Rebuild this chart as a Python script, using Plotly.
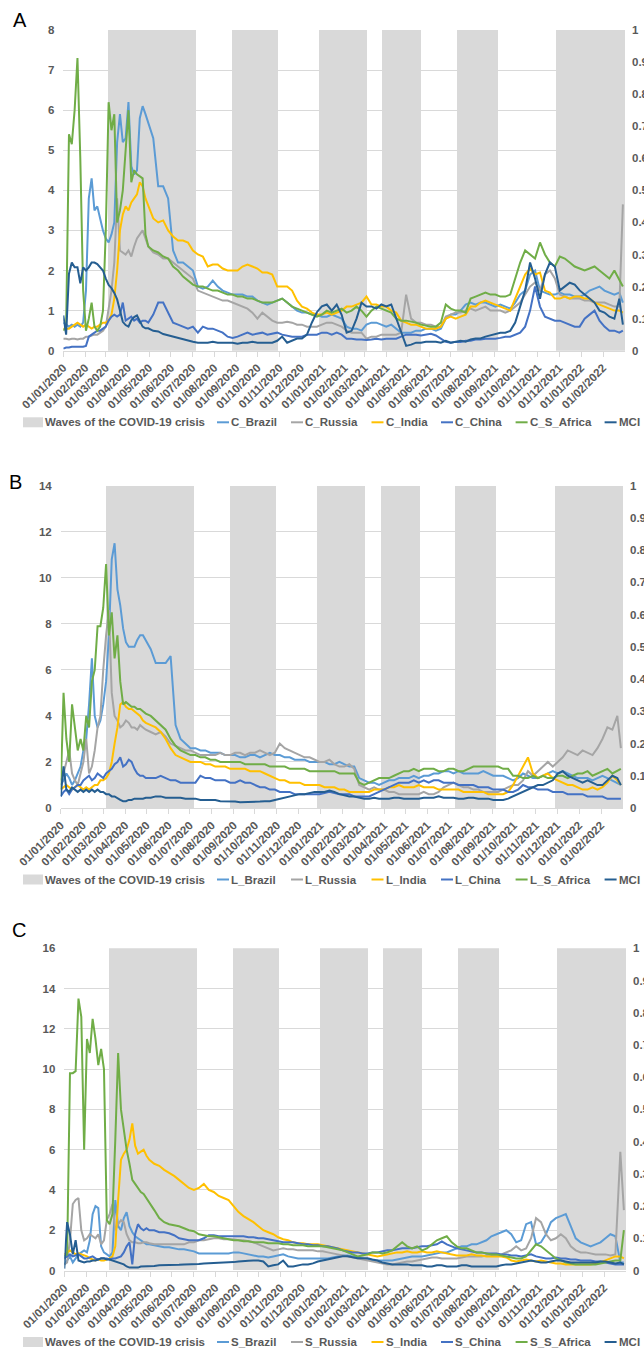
import pandas as pd
import plotly.graph_objects as go

W, H = 644, 1348
FONT = "Liberation Sans, Arial, sans-serif"
GREY_TXT = "#595959"
GRID = "#D9D9D9"

# ---------------- x grid of observations ----------------
DATES = (list(pd.date_range("2020-01-01", "2020-04-30", freq="4D"))
         + list(pd.date_range("2020-05-07", "2022-02-24", freq="7D"))
         + [pd.Timestamp("2022-03-01")])

MONTH_TICKS = list(pd.date_range("2020-01-01", "2022-02-01", freq="MS"))
MONTH_LABELS = [d.strftime("%d/%m/%Y") for d in MONTH_TICKS]
X_START, X_END = "2020-01-01", "2022-03-04"

WAVE_STARTS = ["2020-03-05", "2020-08-27", "2020-12-27", "2021-03-27", "2021-07-10", "2021-11-27"]
WAVE_ENDS = ["2020-07-07", "2020-10-30", "2021-03-05", "2021-05-21", "2021-09-06", "2022-03-04"]

COUNTRIES = ["Brazil", "Russia", "India", "China", "S_Africa"]
COLORS = ["#5B9BD5", "#A5A5A5", "#FFC000", "#4472C4", "#70AD47"]
MCI_COLOR = "#255E91"
WAVE_COLOR = "#D9D9D9"

# ---------------- Panel A (C_*) ----------------
A_BRAZIL = [
    0.7, 0.65, 0.6, 0.65, 0.6, 0.65, 0.6, 0.7,
    1.5, 3.8, 4.3, 3.5, 3.6, 3.3, 3.0,
    2.8, 2.7, 2.9, 3.2, 5.2, 5.9, 5.2, 5.3,
    6.2, 4.6, 4.4, 4.5, 5.8, 6.1, 5.9, 5.7,
    5.3, 4.1, 4.1, 3.8,
    2.5, 2.2, 2.2, 2.1,
    2.0, 1.6, 1.55, 1.6, 1.75,
    1.6, 1.5, 1.45, 1.4,
    1.4, 1.4, 1.35, 1.35,
    1.25, 1.2, 1.15, 1.2, 1.25,
    1.3, 1.2, 1.1, 1.0,
    0.95, 0.95, 0.9, 0.9,
    0.85,
    0.85, 0.9, 0.85, 0.8,
    0.6, 0.55, 0.55, 0.5,
    0.65, 0.7, 0.7, 0.65,
    0.6, 0.65, 0.55, 0.45, 0.45,
    0.45, 0.5, 0.5, 0.55,
    0.55, 0.5, 0.55, 0.8,
    0.9, 0.9, 1.0, 1.15, 1.2,
    1.15, 1.2, 1.2, 1.15,
    1.1, 1.15, 1.1, 1.05, 1.2,
    1.4, 1.5, 1.9, 2.0,
    1.5, 1.45, 1.4, 1.4,
    1.45, 1.4, 1.4, 1.35, 1.35,
    1.4, 1.5, 1.55, 1.6,
    1.5, 1.45, 1.4, 1.45,
    1.2]
A_RUSSIA = [
    0.3, 0.3, 0.28, 0.3, 0.3, 0.28, 0.3, 0.3,
    0.35, 0.35, 0.38, 0.4, 0.4, 0.45, 0.5,
    0.6, 1.0, 1.5, 2.2, 3.8, 2.5, 2.45, 2.4,
    2.5, 2.35, 2.6, 2.8, 2.9, 3.0, 2.8, 2.6,
    2.45, 2.4, 2.3, 2.3,
    2.2, 2.1, 2.0, 1.9,
    1.8, 1.5, 1.45, 1.4, 1.35,
    1.3, 1.25, 1.25, 1.2,
    1.15, 1.1, 1.05, 0.95,
    0.8, 0.95, 0.85, 0.75, 0.7,
    0.7, 0.72, 0.7, 0.65,
    0.65, 0.6, 0.6, 0.6,
    0.65,
    0.7, 0.7, 0.65, 0.6,
    0.5, 0.45, 0.45, 0.45,
    0.3, 0.35, 0.35, 0.4,
    0.4, 0.4, 0.4, 0.45, 1.4,
    0.8, 0.7, 0.7, 0.65,
    0.65, 0.6, 0.6, 0.85,
    0.9, 0.95, 0.95, 1.0, 1.05,
    1.0, 1.05, 1.1, 1.0,
    1.0, 1.0, 0.95, 1.0, 1.1,
    1.2, 1.4, 1.6, 1.7,
    1.5, 1.9, 2.0, 1.8,
    1.4, 1.35, 1.3, 1.3, 1.3,
    1.25, 1.25, 1.2, 1.2,
    1.2, 1.15, 1.1, 1.1,
    3.65]
A_INDIA = [
    0.55, 0.55, 0.55, 0.6, 0.65, 0.7, 0.65, 0.6,
    0.65, 0.6, 0.55, 0.6, 0.6, 0.65, 0.7,
    0.7, 0.75, 0.9, 1.3, 2.0, 3.0, 3.4, 3.6,
    3.5, 3.7, 3.8, 3.9, 4.2, 4.1, 3.8, 3.6,
    3.3, 3.2, 3.25, 3.0,
    2.85, 2.75, 2.75, 2.7,
    2.5, 2.4, 2.35, 2.1, 2.15,
    2.15, 2.05, 2.0, 2.0,
    2.0, 2.1, 2.15, 2.1,
    2.05, 1.95, 1.95, 1.9, 1.6,
    1.6, 1.6, 1.5, 1.25,
    1.1, 1.05, 0.95, 0.9,
    0.9,
    0.95, 0.9, 0.95, 1.0,
    1.1, 1.1, 1.15, 1.2,
    1.35, 1.15, 1.15, 1.1,
    1.1, 1.0, 0.95, 0.75, 0.7,
    0.65, 0.65, 0.6, 0.55,
    0.55, 0.55, 0.6, 0.8,
    0.85, 0.8, 0.85, 0.9, 1.1,
    1.1, 1.2, 1.25, 1.2,
    1.15, 1.1, 1.05, 1.0, 1.3,
    1.6, 1.9, 2.05, 1.9,
    1.95, 1.5, 1.45, 1.3,
    1.3, 1.35, 1.3, 1.35, 1.35,
    1.3, 1.3, 1.2, 1.15,
    1.1, 1.05, 1.0, 1.0,
    0.95]
A_CHINA = [
    0.05, 0.08, 0.08, 0.1, 0.1, 0.1, 0.1, 0.1,
    0.12, 0.35, 0.4, 0.45, 0.5, 0.5, 0.55,
    0.6, 0.75, 0.85, 0.9, 0.85, 0.9, 1.2, 0.75,
    0.8, 0.85, 0.75, 0.8, 0.7, 0.75, 0.75, 0.7,
    0.9, 1.2, 1.2, 0.95,
    0.7, 0.65, 0.6, 0.55,
    0.6, 0.45, 0.6, 0.55, 0.55,
    0.5, 0.45, 0.35, 0.32,
    0.35, 0.4, 0.45, 0.4,
    0.42, 0.45, 0.4, 0.42, 0.45,
    0.4, 0.38, 0.35, 0.35,
    0.35, 0.4, 0.4, 0.4,
    0.45,
    0.45, 0.4, 0.45, 0.4,
    0.3, 0.3, 0.28, 0.28,
    0.27, 0.28, 0.3, 0.28,
    0.3, 0.3, 0.3, 0.35, 0.4,
    0.4, 0.4, 0.38, 0.4,
    0.42, 0.38, 0.3, 0.22,
    0.2, 0.22, 0.22, 0.25, 0.25,
    0.28, 0.28, 0.3, 0.3,
    0.3, 0.32, 0.35, 0.35, 0.4,
    0.45, 0.6, 1.0, 1.6,
    1.1, 0.85, 0.8, 0.75,
    0.75, 0.7, 0.65, 0.6, 0.6,
    0.8, 0.9, 1.0, 0.75,
    0.6, 0.5, 0.5, 0.45,
    0.5]
A_SAFRICA = [
    0.5, 0.6, 5.4, 5.15, 6.0, 7.3, 4.8, 1.5,
    0.5, 0.8, 1.2, 0.6, 0.5, 0.6, 1.0,
    3.0, 6.2, 5.5, 5.9, 3.2, 3.5, 4.0, 5.0,
    6.0, 4.2, 4.5, 4.4, 4.35, 4.3, 2.9, 2.6,
    2.5, 2.45, 2.35, 2.3,
    2.1, 2.0, 1.85, 1.75,
    1.65, 1.6, 1.6, 1.55, 1.5,
    1.5, 1.45, 1.4, 1.4,
    1.35, 1.35, 1.3, 1.3,
    1.25, 1.2, 1.2, 1.2, 1.25,
    1.3, 1.2, 1.1, 1.05,
    1.0, 0.95, 0.9, 0.85,
    0.9,
    1.0, 0.95, 1.0, 1.05,
    0.95, 1.0, 1.1, 1.0,
    0.85, 1.0, 1.1, 1.05,
    1.0, 0.95, 0.8, 0.75, 0.75,
    0.72, 0.7, 0.65, 0.62,
    0.6, 0.6, 0.7, 1.15,
    1.05, 1.0, 1.0, 0.95, 1.3,
    1.35, 1.4, 1.45, 1.4,
    1.4, 1.35, 1.35, 1.4, 1.8,
    2.2, 2.5, 2.4, 2.3,
    2.7, 2.4, 2.2, 2.1,
    2.35, 2.3, 2.2, 2.1, 2.05,
    2.0, 2.05, 2.1, 2.0,
    1.9, 1.8, 2.0, 1.75,
    1.6]
A_MCI = [  # right axis (0-1)
    0.11, 0.05, 0.24, 0.275, 0.26, 0.26, 0.21, 0.26,
    0.25, 0.26, 0.275, 0.275, 0.27, 0.26, 0.25,
    0.225, 0.205, 0.195, 0.18, 0.16, 0.125, 0.09, 0.08,
    0.075, 0.095, 0.105, 0.11, 0.09, 0.075, 0.07, 0.07,
    0.062, 0.06, 0.052, 0.048,
    0.044, 0.038, 0.035, 0.031,
    0.028, 0.025, 0.025, 0.025, 0.028,
    0.025, 0.025, 0.025, 0.025,
    0.022, 0.025, 0.025, 0.028,
    0.025, 0.025, 0.025, 0.025, 0.031,
    0.044, 0.025, 0.031, 0.038,
    0.038, 0.05, 0.088, 0.12,
    0.138,
    0.144, 0.125, 0.144, 0.112,
    0.056, 0.062, 0.1, 0.15,
    0.138, 0.138, 0.131, 0.144,
    0.138, 0.144, 0.1, 0.062, 0.015,
    0.019, 0.025, 0.025, 0.028,
    0.028, 0.028, 0.025, 0.031,
    0.025, 0.028, 0.031, 0.028, 0.035,
    0.038, 0.038, 0.044, 0.048,
    0.05, 0.056, 0.056, 0.062, 0.088,
    0.138, 0.188, 0.275, 0.225,
    0.162, 0.238, 0.275, 0.262,
    0.188, 0.2, 0.212, 0.206, 0.188,
    0.175, 0.162, 0.15, 0.125,
    0.119, 0.106, 0.1, 0.162,
    0.081]

# ---------------- Panel B (L_*) ----------------
B_BRAZIL = [
    1.0, 1.2, 1.5, 1.3, 1.0, 1.2, 1.5, 1.8,
    2.5, 3.0, 4.5, 6.5, 4.0, 3.5, 3.8,
    4.5, 5.5, 7.5, 10.8, 11.5, 9.5, 8.8, 7.8,
    7.2, 7.0, 7.0, 7.0, 7.3, 7.5, 7.5, 7.3,
    6.9, 6.3, 6.3, 6.3,
    6.6, 3.6, 3.0, 2.8,
    2.6, 2.6, 2.5, 2.5, 2.4,
    2.4, 2.4, 2.3, 2.3,
    2.3, 2.2, 2.2, 2.3,
    2.3, 2.2, 2.3, 2.4, 2.3,
    2.3, 2.2, 2.2, 2.1,
    2.1, 2.1, 2.0, 2.0,
    2.0,
    2.0, 1.9, 1.9, 2.0,
    1.9, 1.8, 1.8, 1.3,
    1.2, 1.1, 1.1, 1.0,
    1.1, 1.2, 1.2, 1.3, 1.3,
    1.3, 1.4, 1.3, 1.4,
    1.4, 1.5, 1.5, 1.6,
    1.6, 1.5, 1.6, 1.5, 1.5,
    1.5, 1.5, 1.6, 1.5,
    1.4, 1.4, 1.4, 1.3, 1.2,
    1.3, 1.5, 1.4, 1.3,
    1.3, 1.4, 1.5, 1.6,
    1.5, 1.6, 1.5, 1.4, 1.3,
    1.3, 1.3, 1.2, 1.3,
    1.4, 1.3, 1.2, 1.1,
    1.0]
B_RUSSIA = [
    1.2, 1.5, 2.0, 2.5, 1.5, 1.2, 1.0, 1.5,
    2.0, 3.0, 1.5, 1.8, 2.5, 3.5, 4.0,
    6.0, 7.5, 8.6, 5.0, 4.0, 3.8, 3.5, 3.6,
    3.8, 3.7, 3.5, 3.5, 3.4, 3.6, 3.5, 3.4,
    3.3, 3.2, 3.3, 3.1,
    2.8, 2.7, 2.6, 2.5,
    2.5, 2.4, 2.3, 2.3, 2.3,
    2.3, 2.4, 2.3, 2.3,
    2.4, 2.4, 2.3, 2.4,
    2.4, 2.5, 2.4, 2.3, 2.4,
    2.8, 2.6, 2.5, 2.4,
    2.3, 2.2, 2.2, 2.1,
    2.0,
    2.0, 2.1, 1.9, 1.8,
    1.8, 1.9, 1.7, 1.0,
    0.9, 0.8, 0.9, 0.8,
    0.8, 0.7, 0.7, 0.6, 0.6,
    0.6, 0.6, 0.6, 0.7,
    0.6, 0.6, 0.7, 0.9,
    1.0, 1.1, 1.0, 0.9, 0.9,
    0.8, 0.8, 0.7, 0.7,
    0.7, 0.7, 0.8, 0.9, 1.0,
    1.0, 1.2, 1.6, 1.4,
    1.6, 1.8, 2.0, 1.8,
    2.0, 2.2, 2.5, 2.4, 2.3,
    2.5, 2.4, 2.3, 2.6,
    3.0, 3.5, 3.4, 4.0,
    2.6]
B_INDIA = [
    0.8, 0.9, 1.0, 0.9, 0.8, 0.9, 1.0, 0.9,
    0.8, 0.9, 0.8, 0.9, 1.0, 1.0, 1.2,
    1.2, 1.3, 1.5, 2.0, 2.8, 3.5, 4.5, 4.6,
    4.4, 4.3, 4.3, 4.2, 4.1, 4.0, 3.8, 3.7,
    3.6, 3.5, 3.3, 3.0,
    2.6, 2.3, 2.2, 2.1,
    2.0, 2.0, 2.0, 1.9, 1.9,
    1.8, 1.8, 1.8, 1.7,
    1.7, 1.7, 1.7, 1.6,
    1.6, 1.6, 1.5, 1.4, 1.3,
    1.2, 1.2, 1.1, 1.1,
    1.1, 1.0, 1.0, 1.0,
    1.0,
    0.9, 0.9, 0.9, 0.8,
    0.8, 0.7, 0.7, 0.7,
    0.7, 0.7, 0.8, 0.8,
    0.8, 0.9, 0.9, 1.0, 0.9,
    0.9, 0.9, 1.0, 0.9,
    0.9, 0.9, 0.8, 0.8,
    0.8, 0.8, 0.8, 0.7, 0.7,
    0.7, 0.7, 0.7, 0.6,
    0.6, 0.6, 0.6, 0.7, 1.0,
    1.4, 1.8, 2.2, 1.5,
    1.3, 1.4, 1.5, 1.3,
    1.2, 1.1, 1.0, 1.0, 0.9,
    0.8, 0.8, 0.9, 0.8,
    0.9, 1.1, 1.4, 1.2,
    1.0]
B_CHINA = [
    0.5, 0.7, 0.8, 0.6, 0.8, 0.9, 1.0, 1.0,
    1.2, 1.3, 1.4, 1.2, 1.3, 1.5, 1.4,
    1.3, 1.5, 1.6, 1.7, 1.9, 2.0, 2.2, 1.8,
    1.9, 2.1, 2.0, 1.7, 1.5, 1.4, 1.4, 1.3,
    1.3, 1.3, 1.4, 1.3,
    1.2, 1.2, 1.1, 1.1,
    1.1, 1.1, 1.4, 1.3, 1.3,
    1.2, 1.2, 1.2, 1.1,
    1.1, 1.2, 1.1, 1.1,
    1.0, 0.9, 0.9, 0.8, 0.8,
    0.7, 0.7, 0.7, 0.6,
    0.6, 0.6, 0.6, 0.6,
    0.6,
    0.65, 0.7, 0.65, 0.6,
    0.6, 0.6, 0.5, 0.5,
    0.5, 0.5, 0.6, 0.7,
    0.8, 0.9, 1.0, 1.1, 1.1,
    1.1, 1.2, 1.1, 1.2,
    1.1, 1.2, 1.2, 1.1,
    1.1, 1.1, 1.0, 1.0, 1.0,
    1.0, 0.9, 0.9, 0.9,
    0.8, 0.8, 0.8, 0.7, 0.7,
    0.8, 1.0, 0.9, 0.9,
    0.8, 0.8, 0.8, 0.7,
    0.7, 0.7, 0.6, 0.6, 0.6,
    0.6, 0.5, 0.5, 0.5,
    0.5, 0.4, 0.4, 0.4,
    0.4]
B_SAFRICA = [
    0.8, 5.0, 3.0, 2.0, 4.5, 3.5, 2.5, 3.0,
    2.5, 4.0, 3.5, 5.5, 6.0, 7.9, 7.9,
    8.7, 10.6, 7.5, 8.5, 6.5, 7.5, 5.5, 4.5,
    4.6, 4.5, 4.4, 4.4, 4.3, 4.3, 4.2, 4.1,
    4.0, 3.8, 3.6, 3.4,
    3.0, 2.7, 2.5, 2.4,
    2.3, 2.3, 2.2, 2.2, 2.1,
    2.1, 2.0, 2.0, 2.0,
    2.0, 2.0, 1.9, 1.9,
    1.9, 1.9, 1.9, 1.8, 1.8,
    1.8, 1.8, 1.7, 1.7,
    1.7, 1.7, 1.6, 1.6,
    1.6,
    1.6, 1.6, 1.6, 1.5,
    1.5, 1.5, 1.5, 1.1,
    1.0, 1.1, 1.2, 1.3,
    1.3, 1.3, 1.4, 1.5, 1.6,
    1.6, 1.7, 1.6, 1.7,
    1.7, 1.7, 1.6, 1.6,
    1.7, 1.7, 1.6, 1.6, 1.7,
    1.8, 1.8, 1.8, 1.8,
    1.8, 1.8, 1.7, 1.7, 1.4,
    1.4, 1.3, 1.3, 1.4,
    1.3, 1.4, 1.3, 1.3,
    1.4, 1.4, 1.3, 1.4, 1.5,
    1.5, 1.6, 1.4, 1.5,
    1.6, 1.7, 1.5, 1.6,
    1.7]
B_MCI = [  # right axis (0-1)
    0.036, 0.129, 0.057, 0.05, 0.064, 0.057, 0.05, 0.057,
    0.05, 0.057, 0.05, 0.057, 0.05, 0.057, 0.05,
    0.05, 0.043, 0.043, 0.036, 0.036, 0.029, 0.025, 0.021,
    0.021, 0.025, 0.025, 0.029, 0.029, 0.029, 0.029, 0.032,
    0.032, 0.036, 0.036, 0.032,
    0.032, 0.032, 0.032, 0.029,
    0.029, 0.029, 0.025, 0.025, 0.025,
    0.025, 0.021, 0.021, 0.021,
    0.02, 0.018, 0.018, 0.018,
    0.018, 0.02, 0.021, 0.021, 0.025,
    0.029, 0.032, 0.036, 0.039,
    0.043, 0.043, 0.046, 0.05,
    0.05,
    0.05, 0.054, 0.05, 0.043,
    0.039, 0.036, 0.036, 0.032,
    0.029, 0.029, 0.032, 0.029,
    0.029, 0.029, 0.032, 0.032, 0.029,
    0.029, 0.029, 0.029, 0.032,
    0.032, 0.032, 0.036, 0.032,
    0.032, 0.032, 0.029, 0.029, 0.032,
    0.032, 0.029, 0.029, 0.029,
    0.025, 0.025, 0.025, 0.029, 0.036,
    0.043, 0.05, 0.057, 0.064,
    0.071, 0.071, 0.079, 0.086,
    0.107, 0.114, 0.1, 0.093, 0.086,
    0.079, 0.086, 0.079, 0.071,
    0.071, 0.086, 0.1, 0.093,
    0.071]

# ---------------- Panel C (S_*) ----------------
C_BRAZIL = [
    0.3, 0.5, 0.7, 0.4, 0.6, 0.8, 0.9, 1.0,
    0.9, 1.5, 2.8, 3.2, 3.1, 1.2, 0.9,
    0.8, 0.7, 0.9, 3.5, 2.2, 2.0, 2.6, 2.9,
    2.2, 1.9, 1.7, 1.6, 1.5, 1.4, 1.3, 1.3,
    1.25, 1.2, 1.15, 1.15,
    1.1, 1.05, 1.05, 1.0,
    0.95, 0.85, 0.85, 0.85, 0.85,
    0.85, 0.85, 0.85, 0.9,
    0.9, 0.85, 0.8, 0.75,
    0.7, 0.7, 0.65, 0.7, 0.75,
    0.8, 0.7, 0.65, 0.6,
    0.6, 0.6, 0.6, 0.6,
    0.6,
    0.6, 0.65, 0.7, 0.75,
    0.75, 0.7, 0.65, 0.6,
    0.55, 0.5, 0.5, 0.5,
    0.5, 0.5, 0.55, 0.6, 0.65,
    0.7, 0.7, 0.7, 0.75,
    0.8, 0.85, 0.9, 0.9,
    1.0, 1.1, 1.2, 1.2, 1.3,
    1.3, 1.4, 1.5, 1.7,
    1.8, 1.9, 2.0, 1.8, 1.4,
    1.5, 2.3, 2.4, 1.3,
    1.4, 1.8, 2.4, 2.6,
    2.7, 2.8, 2.2, 1.6, 1.4,
    1.3, 1.2, 1.3, 1.4,
    1.6, 1.8, 1.7, 0.4,
    0.4]
C_RUSSIA = [
    0.3, 0.4, 1.5, 3.3, 3.5, 3.6, 2.0, 1.5,
    1.6, 1.8, 1.7, 1.6, 1.8, 1.3, 1.5,
    2.5, 2.8, 3.3, 2.0, 2.3, 2.5, 2.4, 1.8,
    1.5, 1.4, 1.4, 1.35, 1.35, 1.4, 1.4, 1.35,
    1.3, 1.3, 1.3, 1.3,
    1.3, 1.3, 1.3, 1.4,
    1.4, 1.5, 1.5, 1.55, 1.6,
    1.6, 1.55, 1.55, 1.55,
    1.5, 1.5, 1.45, 1.4,
    1.3, 1.2, 1.1, 1.0, 1.05,
    1.1, 1.05, 1.05, 1.0,
    1.0, 1.0, 1.0, 0.95,
    0.95,
    0.9, 0.85, 0.8, 0.75,
    0.7, 0.65, 0.6, 0.55,
    0.5, 0.45, 0.4, 0.35,
    0.3, 0.3, 0.35, 0.4, 0.45,
    0.45, 0.5, 0.55, 0.6,
    0.65, 0.65, 0.6, 0.6,
    0.6, 0.6, 0.65, 0.7, 0.7,
    0.7, 0.7, 0.75, 0.75,
    0.75, 0.8, 0.9, 1.0, 1.2,
    1.0, 1.1, 1.6, 2.6,
    2.4, 1.8, 1.5, 1.6,
    1.8, 1.6, 1.2, 1.0, 0.9,
    0.9, 0.85, 0.8, 0.8,
    0.8, 0.75, 0.8, 5.9,
    3.0]
C_INDIA = [
    0.8, 0.9, 1.0, 0.9, 0.8, 0.85, 0.8, 0.75,
    0.7, 0.6, 0.55, 0.5, 0.55, 0.5, 0.5,
    0.55, 0.6, 0.7, 1.2, 3.5, 5.5, 5.8, 6.0,
    6.5, 7.3, 6.2, 5.8, 5.9, 6.0, 5.7, 5.5,
    5.3, 5.2, 5.0, 4.85,
    4.7, 4.5, 4.3, 4.1,
    4.0, 4.1, 4.3, 4.0, 3.9,
    3.7, 3.6, 3.5, 3.2,
    2.9, 2.7, 2.55, 2.4,
    2.2, 2.0, 1.9, 1.8, 1.65,
    1.55, 1.5, 1.4, 1.35,
    1.35, 1.3, 1.3, 1.3,
    1.25,
    1.2, 1.15, 1.1, 1.05,
    1.0, 0.95, 0.9, 0.85,
    0.8, 0.75, 0.7, 0.75,
    0.8, 0.85, 0.9, 0.9, 0.95,
    0.9, 0.9, 0.95, 0.9,
    0.9, 0.95, 0.9, 0.85,
    0.8, 0.75, 0.75, 0.75, 0.8,
    0.75, 0.75, 0.7, 0.7,
    0.7, 0.7, 0.65, 0.5, 0.45,
    0.5, 0.55, 0.5, 0.45,
    0.5, 0.45, 0.4, 0.35,
    0.35, 0.3, 0.3, 0.3, 0.3,
    0.3, 0.3, 0.35, 0.4,
    0.5, 0.6, 0.7, 0.7,
    0.6]
C_CHINA = [
    0.6, 0.7, 0.8, 0.7, 0.75, 0.8, 0.7, 0.6,
    0.6, 0.65, 0.7, 0.6, 0.55, 0.6, 0.6,
    0.6, 0.55, 0.6, 0.6, 0.65, 0.7, 0.9, 1.2,
    1.4, 0.3, 1.8, 2.3, 2.1, 2.0, 2.1, 2.0,
    2.0, 1.9, 1.9, 1.85,
    1.75, 1.6, 1.55, 1.5,
    1.5, 1.5, 1.6, 1.75, 1.75,
    1.7, 1.7, 1.7, 1.7,
    1.7, 1.7, 1.65, 1.65,
    1.6, 1.6, 1.55, 1.5, 1.45,
    1.4, 1.4, 1.4, 1.35,
    1.3, 1.3, 1.25, 1.25,
    1.2,
    1.2, 1.15, 1.1, 1.0,
    0.95, 0.9, 0.9, 0.85,
    0.85, 0.9, 0.9, 0.95,
    1.0, 1.0, 1.05, 1.1, 1.1,
    1.1, 1.15, 1.2, 1.2,
    1.25, 1.3, 1.45, 1.3,
    1.2, 1.1, 1.05, 1.0, 0.95,
    0.9, 0.9, 0.85, 0.85,
    0.85, 0.8, 0.8, 0.75, 0.75,
    0.7, 0.75, 0.8, 0.7,
    0.65, 0.6, 0.6, 0.65,
    0.6, 0.6, 0.55, 0.55, 0.5,
    0.5, 0.5, 0.45, 0.45,
    0.4, 0.35, 0.3, 0.3,
    0.3]
C_SAFRICA = [
    0.7, 0.8, 9.8, 9.8, 9.9, 13.5, 12.6, 6.0,
    11.5, 10.8, 12.5, 11.5, 10.2, 11.0, 10.0,
    2.5, 2.3, 2.8, 6.5, 10.8, 8.0, 7.0, 6.0,
    5.3, 4.5, 4.3, 4.1, 3.9, 3.8, 3.6, 3.4,
    3.0, 2.6, 2.4, 2.3,
    2.25, 2.2, 2.1, 2.0,
    1.95, 1.8, 1.75, 1.7, 1.7,
    1.65, 1.6, 1.55, 1.5,
    1.5, 1.45, 1.45, 1.4,
    1.4, 1.4, 1.35, 1.35, 1.35,
    1.3, 1.3, 1.25, 1.25,
    1.25, 1.2, 1.2, 1.2,
    1.2,
    1.15, 1.1, 1.05, 1.0,
    0.9, 0.8, 0.7, 0.75,
    0.8, 0.9, 0.9, 0.85,
    0.9, 1.0, 1.2, 1.4, 1.2,
    1.1, 1.2, 1.0, 1.1,
    1.3, 1.5, 1.6, 1.7,
    1.4, 1.2, 1.1, 1.1, 1.0,
    0.9, 0.9, 0.85, 0.8,
    0.8, 0.75, 0.7, 0.65, 0.6,
    0.6, 0.7, 1.0, 1.3,
    1.2, 1.0, 0.8, 0.6,
    0.5, 0.4, 0.35, 0.3, 0.3,
    0.3, 0.3, 0.3, 0.35,
    0.4, 0.45, 0.5, 0.5,
    2.0]
C_MCI = [  # right axis (0-1)
    0.006, 0.15, 0.112, 0.05, 0.094, 0.031, 0.028, 0.025,
    0.028, 0.028, 0.031, 0.031, 0.034, 0.038, 0.038,
    0.034, 0.034, 0.031, 0.028, 0.025, 0.022, 0.019, 0.0125,
    0.009, 0.009, 0.009, 0.009, 0.0125, 0.0125, 0.0125, 0.014,
    0.014, 0.016, 0.016, 0.016,
    0.016, 0.018, 0.019, 0.019,
    0.019, 0.02, 0.022, 0.022, 0.022,
    0.024, 0.025, 0.025, 0.026,
    0.028, 0.028, 0.03, 0.031,
    0.031, 0.028, 0.0125, 0.016, 0.019,
    0.031, 0.0125, 0.0125, 0.016,
    0.019, 0.019, 0.022, 0.028,
    0.031,
    0.034, 0.038, 0.041, 0.044,
    0.044, 0.041, 0.038, 0.038,
    0.038, 0.034, 0.031, 0.025,
    0.022, 0.019, 0.019, 0.019, 0.019,
    0.016, 0.016, 0.016, 0.0125,
    0.0125, 0.016, 0.016, 0.0125,
    0.0125, 0.0125, 0.016, 0.016, 0.0125,
    0.0125, 0.0125, 0.0125, 0.0125,
    0.0125, 0.016, 0.019, 0.019, 0.022,
    0.025, 0.028, 0.031, 0.028,
    0.025, 0.025, 0.028, 0.031,
    0.031, 0.028, 0.025, 0.025, 0.025,
    0.025, 0.025, 0.025, 0.028,
    0.028, 0.025, 0.022, 0.025,
    0.019]

PANELS = [
    dict(prefix="C", letter="A", series=[A_BRAZIL, A_RUSSIA, A_INDIA, A_CHINA, A_SAFRICA], mci=A_MCI,
         ymax=8, dtick=1, left=63.3, right=625, top=30, bottom=350.7, letter_xy=(19.5, 20), legend_y=422.3),
    dict(prefix="L", letter="B", series=[B_BRAZIL, B_RUSSIA, B_INDIA, B_CHINA, B_SAFRICA], mci=B_MCI,
         ymax=14, dtick=2, left=60.7, right=623, top=485.7, bottom=808, letter_xy=(16, 481.5), legend_y=879.5),
    dict(prefix="S", letter="C", series=[C_BRAZIL, C_RUSSIA, C_INDIA, C_CHINA, C_SAFRICA], mci=C_MCI,
         ymax=16, dtick=2, left=64.3, right=626, top=948.3, bottom=1270.5, letter_xy=(19, 929.5), legend_y=1342),
]

LEGEND_TEXT_X = [44.3, 230, 304, 384.5, 454, 528.6, 617.6]

for p in PANELS:
    for s in p["series"] + [p["mci"]]:
        assert len(s) == len(DATES), (p["letter"], len(s), len(DATES))

wave_mid = [pd.Timestamp(a) + (pd.Timestamp(b) - pd.Timestamp(a)) / 2 for a, b in zip(WAVE_STARTS, WAVE_ENDS)]
wave_ms = [(pd.Timestamp(b) - pd.Timestamp(a)).total_seconds() * 1000 for a, b in zip(WAVE_STARTS, WAVE_ENDS)]

fig = go.Figure()
layout = dict(width=W, height=H, margin=dict(l=0, r=0, t=0, b=0, pad=0, autoexpand=False),
              paper_bgcolor="white", plot_bgcolor="white", showlegend=False,
              font=dict(family=FONT, color=GREY_TXT), bargap=0)
shapes, annotations = [], []
tickfont = dict(family=FONT, size=11.5, color=GREY_TXT, weight=700)

for i, p in enumerate(PANELS):
    xa = "x" if i == 0 else f"x{i+1}"
    yl = "y" if i == 0 else f"y{2*i+1}"
    yr = f"y{2*i+2}"
    xkey = "xaxis" if i == 0 else f"xaxis{i+1}"
    ylkey = "yaxis" if i == 0 else f"yaxis{2*i+1}"
    yrkey = f"yaxis{2*i+2}"
    xdom = [p["left"] / W, p["right"] / W]
    ydom = [1 - p["bottom"] / H, 1 - p["top"] / H]

    layout[xkey] = dict(domain=xdom, anchor=yl, type="date", range=[X_START, X_END],
                        tickvals=MONTH_TICKS, ticktext=MONTH_LABELS, tickangle=-45,
                        ticks="outside", ticklen=5, tickcolor=GRID, tickwidth=1,
                        showline=True, linecolor=GRID, linewidth=1, showgrid=False,
                        zeroline=False, tickfont=tickfont, automargin=False)
    layout[ylkey] = dict(domain=ydom, anchor=xa, range=[0, p["ymax"]], dtick=p["dtick"],
                         showgrid=True, gridcolor=GRID, gridwidth=1, zeroline=False,
                         showline=False, ticks="", tickfont=tickfont, ticklabelstandoff=8,
                         automargin=False)
    layout[yrkey] = dict(overlaying=yl, anchor=xa, side="right", range=[0, 1], dtick=0.1,
                         showgrid=False, zeroline=False, showline=False, ticks="",
                         tickfont=tickfont, ticklabelstandoff=6, automargin=False)

    # waves of the COVID-19 crisis (full-height columns)
    fig.add_trace(go.Bar(x=wave_mid, y=[p["ymax"]] * len(wave_mid), width=wave_ms,
                         marker=dict(color=WAVE_COLOR, line=dict(width=0)),
                         name="Waves of the COVID-19 crisis", xaxis=xa, yaxis=yl,
                         hoverinfo="skip"))

    for name, vals, col in zip(COUNTRIES, p["series"], COLORS):
        fig.add_trace(go.Scatter(x=DATES, y=vals, mode="lines", name=f"{p['prefix']}_{name}",
                                 line=dict(color=col, width=2), xaxis=xa, yaxis=yl,
                                 hoverinfo="skip"))
    fig.add_trace(go.Scatter(x=DATES, y=p["mci"], mode="lines", name="MCI",
                             line=dict(color=MCI_COLOR, width=2), xaxis=xa, yaxis=yr,
                             hoverinfo="skip"))

    # panel letter
    lx, ly = p["letter_xy"]
    annotations.append(dict(text=p["letter"], x=lx / W, y=1 - ly / H, xref="paper", yref="paper",
                            xanchor="center", yanchor="middle", showarrow=False,
                            font=dict(family=FONT, size=20, color="black")))

    # legend (drawn below each panel)
    ly = p["legend_y"]
    labels = ["Waves of the COVID-19 crisis"] + [f"{p['prefix']}_{c}" for c in COUNTRIES] + ["MCI"]
    icon_cols = [WAVE_COLOR] + COLORS + [MCI_COLOR]
    for k, (lab, tx, col) in enumerate(zip(labels, LEGEND_TEXT_X, icon_cols)):
        if k == 0:
            shapes.append(dict(type="rect", xref="paper", yref="paper",
                               x0=23 / W, x1=43 / W, y0=1 - (ly + 5) / H, y1=1 - (ly - 5) / H,
                               fillcolor=col, line=dict(width=0)))
        else:
            shapes.append(dict(type="line", xref="paper", yref="paper",
                               x0=(tx - 13) / W, x1=(tx - 1) / W, y0=1 - ly / H, y1=1 - ly / H,
                               line=dict(color=col, width=2)))
        annotations.append(dict(text=lab, x=tx / W, y=1 - ly / H, xref="paper", yref="paper",
                                xanchor="left", yanchor="middle", showarrow=False, borderpad=0,
                                font=dict(family=FONT, size=11.5, color=GREY_TXT, weight=700)))

layout["shapes"] = shapes
layout["annotations"] = annotations
fig.update_layout(**layout)
fig.write_html("out.html", config={"displayModeBar": False},
               post_script="document.body.style.margin='0px';")
